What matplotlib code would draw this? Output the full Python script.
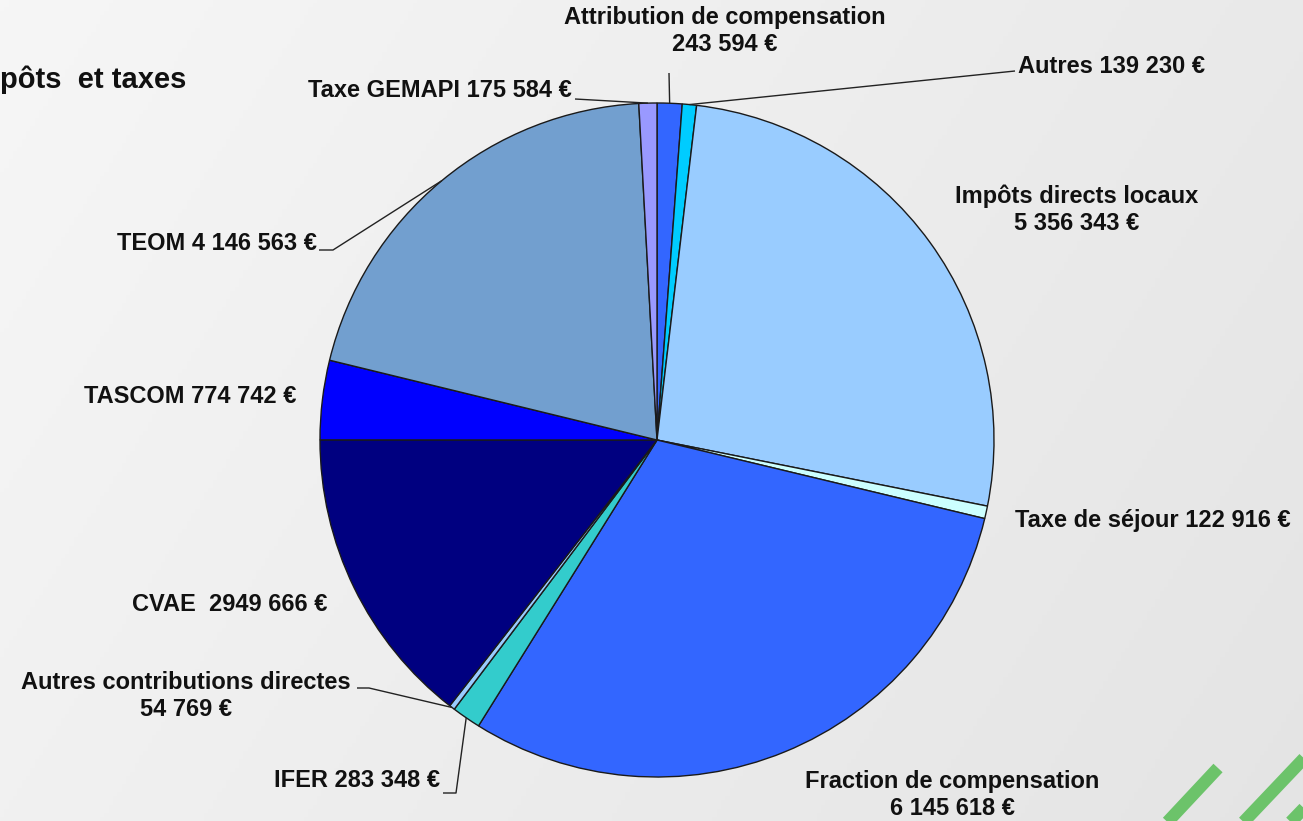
import numpy as np
import matplotlib
matplotlib.use('Agg')
import matplotlib.pyplot as plt

plt.rcParams['font.family'] = ['Liberation Sans', 'DejaVu Sans']
plt.rcParams['font.weight'] = 'bold'

# slices, clockwise from the top
categories = ['Attribution de compensation', 'Autres', 'Impôts directs locaux',
              'Taxe de séjour', 'Fraction de compensation', 'IFER',
              'Autres contributions directes', 'CVAE', 'TASCOM', 'TEOM',
              'Taxe GEMAPI']
values = [243594, 139230, 5356343, 122916, 6145618, 283348,
          54769, 2949666, 774742, 4146563, 175584]
labels = ['Attribution de compensation\n243 594 €',
          'Autres 139 230 €',
          'Impôts directs locaux\n5 356 343 €',
          'Taxe de séjour 122 916 €',
          'Fraction de compensation\n6 145 618 €',
          'IFER 283 348 €',
          'Autres contributions directes\n54 769 €',
          'CVAE  2949 666 €',
          'TASCOM 774 742 €',
          'TEOM 4 146 563 €',
          'Taxe GEMAPI 175 584 €']
colors = ['#3366FF', '#00CCFF', '#99CCFF', '#CCFFFF', '#3366FF', '#33CCCC',
          '#99CCFF', '#000080', '#0000FF', '#729FCF', '#9999FF']

W, H = 1303, 821
CX, CY, R = 657, 440, 337


def px(x, y):
    # pixel position -> pie data coordinates
    return (x - CX) / R, (CY - y) / R


fig = plt.figure(figsize=(W / 100, H / 100), dpi=100)

# background gradient, light grey getting a bit darker to the right
bg = fig.add_axes([0, 0, 1, 1])
gx, gy = np.meshgrid(np.linspace(0, 1, 300), np.linspace(0, 1, 200))
shade = 0.965 - 0.05 * gx - 0.02 * gy
bg.imshow(np.dstack([shade] * 3), aspect='auto', extent=[0, 1, 0, 1],
          origin='upper')
bg.set_xlim(0, 1)
bg.set_ylim(0, 1)
bg.axis('off')

ax = fig.add_axes([0, 0, 1, 1])
wedges, _ = ax.pie(values, colors=colors, startangle=90, counterclock=False,
                   radius=1, center=(0, 0), frame=True,
                   wedgeprops=dict(edgecolor='#1a1a1a', linewidth=1.0))
ax.set_xlim(px(0, 0)[0], px(W, 0)[0])
ax.set_ylim(px(0, H)[1], px(0, 0)[1])
ax.set_aspect('equal')
ax.axis('off')

fs = 17
# label anchor (pixels), alignment, leader path (pixels) from label to slice
lab_pos = [
    ((725, 31), 'center', [(669, 73)]),
    ((1018, 66), 'left', [(1015, 71)]),
    ((1077, 210), 'center', None),
    ((1015, 520), 'left', None),
    ((952, 795), 'center', None),
    ((440, 780), 'right', [(443, 793), (456, 793)]),
    ((186, 696), 'center', [(357, 688), (369, 688)]),
    ((230, 604), 'center', None),
    ((296, 396), 'right', None),
    ((317, 243), 'right', [(319, 250), (333, 250)]),
    ((572, 90), 'right', [(575, 99)]),
]

for w, lab, (pos, ha, path) in zip(wedges, labels, lab_pos):
    x, y = px(*pos)
    ax.text(x, y, lab, ha=ha, va='center', fontsize=fs, fontweight='bold',
            color='#111111', linespacing=1.2)
    if path:
        mid = np.deg2rad((w.theta1 + w.theta2) / 2)
        pts = [px(*p) for p in path] + [(np.cos(mid), np.sin(mid))]
        ax.plot([p[0] for p in pts], [p[1] for p in pts], color='#222222',
                lw=1.0, solid_capstyle='butt')

# title, cut at the left edge
fig.text(186 / W, 1 - 80 / H, 'Impôts  et taxes', ha='right', va='center',
         fontsize=21, fontweight='bold', color='#111111')

# green decoration lines
for x0, y0, x1, y1 in [(1160, 830, 1218, 768), (1236, 830, 1310, 752),
                       (1283, 830, 1310, 802)]:
    fig.add_artist(plt.Line2D([x0 / W, x1 / W], [1 - y0 / H, 1 - y1 / H],
                              color='#6CC36A', lw=9, solid_capstyle='butt'))

fig.savefig('out.png', dpi=100)
